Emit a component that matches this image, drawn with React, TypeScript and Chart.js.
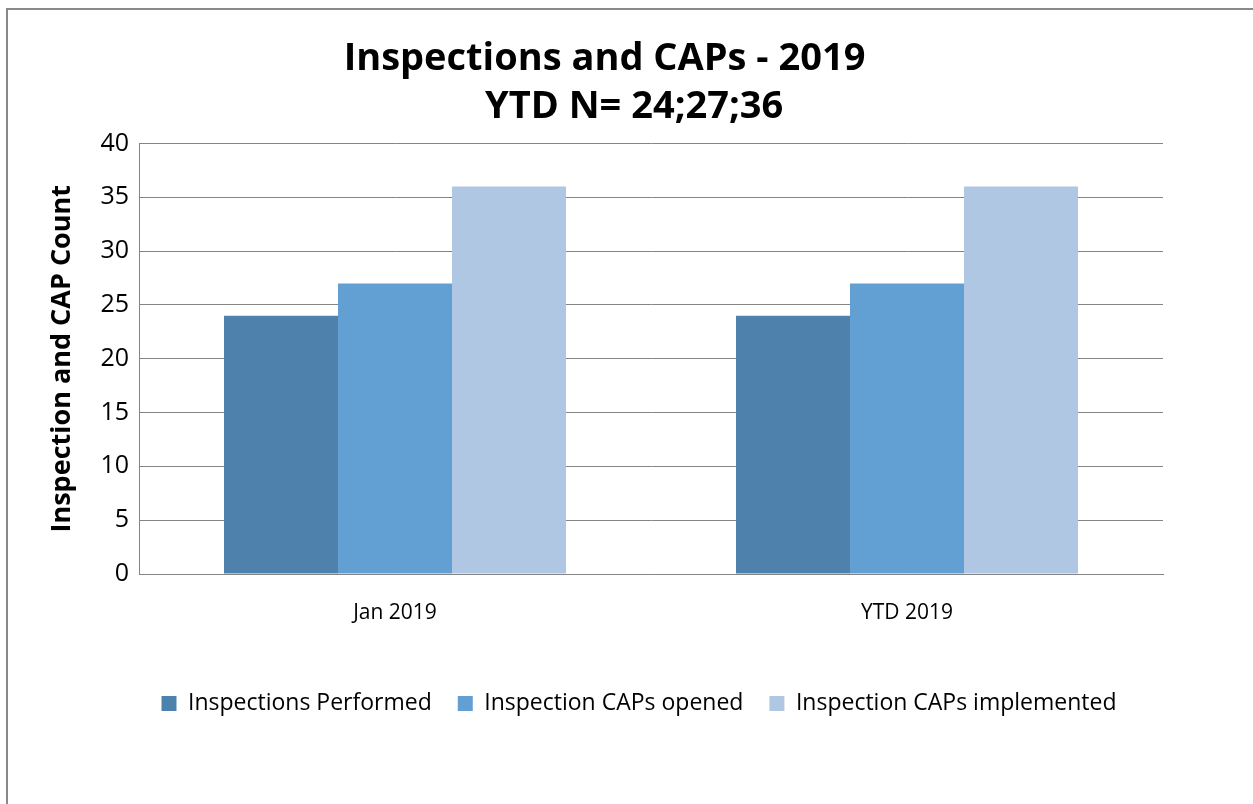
import React, { useEffect, useRef } from "react";
import { Chart, registerables } from "chart.js";

Chart.register(...registerables);

const categories = ["Jan 2019", "YTD 2019"];
const seriesNames = [
  "Inspections Performed",
  "Inspection CAPs opened",
  "Inspection CAPs implemented",
];
const inspectionsPerformed = [24, 24];
const capsOpened = [27, 27];
const capsImplemented = [36, 36];
const seriesColors = ["#4F81AD", "#629FD3", "#B0C7E4"];
const titleLines = ["Inspections and CAPs - 2019", "      YTD N= 24;27;36"];
const yAxisTitle = "Inspection and CAP Count";
const yMin = 0;
const yMax = 40;
const yStep = 5;

const FONT = "'Open Sans', sans-serif";
const GRID = "#858585";

const legendShift = {
  id: "legendShift",
  afterLayout(chart: any) {
    const lg = chart.legend;
    if (lg) {
      lg.left -= 12;
      lg.right -= 12;
    }
  },
};

export default function App() {
  const ref = useRef<HTMLCanvasElement | null>(null);

  useEffect(() => {
    if (!ref.current) return;
    const values = [inspectionsPerformed, capsOpened, capsImplemented];
    const chart = new Chart(ref.current, {
      type: "bar",
      data: {
        labels: categories,
        datasets: seriesNames.map((name, i) => ({
          label: name,
          data: values[i],
          backgroundColor: seriesColors[i],
          borderWidth: 0,
        })),
      },
      plugins: [legendShift],
      options: {
        animation: false,
        responsive: true,
        maintainAspectRatio: false,
        datasets: { bar: { categoryPercentage: 0.668, barPercentage: 1 } },
        layout: { padding: { left: 38, right: 45, top: 0, bottom: 0 } },
        plugins: {
          title: {
            display: true,
            text: titleLines,
            color: "#000",
            font: { family: FONT, size: 38, weight: "bold", lineHeight: 1.263 },
            padding: { top: 25, bottom: 12.5 },
          },
          legend: {
            position: "bottom",
            fullSize: false,
            labels: {
              color: "#000",
              font: { family: FONT, size: 23 },
              boxWidth: 15,
              boxHeight: 15,
              padding: 26,
            },
          },
          tooltip: { enabled: false },
        },
        scales: {
          x: {
            grid: { display: false },
            border: { display: true, color: GRID, width: 1 },
            ticks: { color: "#000", font: { family: FONT, size: 21 }, padding: 18 },
            afterFit: (s: any) => {
              s.height = 92;
            },
          },
          y: {
            min: yMin,
            max: yMax,
            ticks: {
              stepSize: yStep,
              color: "#000",
              font: { family: FONT, size: 25 },
              padding: 10,
            },
            grid: { color: GRID, lineWidth: 1, drawTicks: false },
            border: { display: true, color: GRID, width: 1 },
            title: {
              display: true,
              text: yAxisTitle,
              color: "#000",
              font: { family: FONT, size: 27, weight: "bold" },
              padding: 0,
            },
            afterFit: (s: any) => {
              s.width = 93;
            },
          },
        },
      },
    });
    return () => chart.destroy();
  }, []);

  return (
    <div
      style={{
        position: "fixed",
        left: 6,
        top: 8,
        width: 1247,
        height: 796,
        borderLeft: "2px solid #898989",
        borderTop: "2px solid #898989",
        boxSizing: "border-box",
        background: "#fff",
      }}
    >
      <div style={{ position: "absolute", left: 0, top: 0, width: 1200, height: 715 }}>
        <canvas ref={ref} />
      </div>
    </div>
  );
}
